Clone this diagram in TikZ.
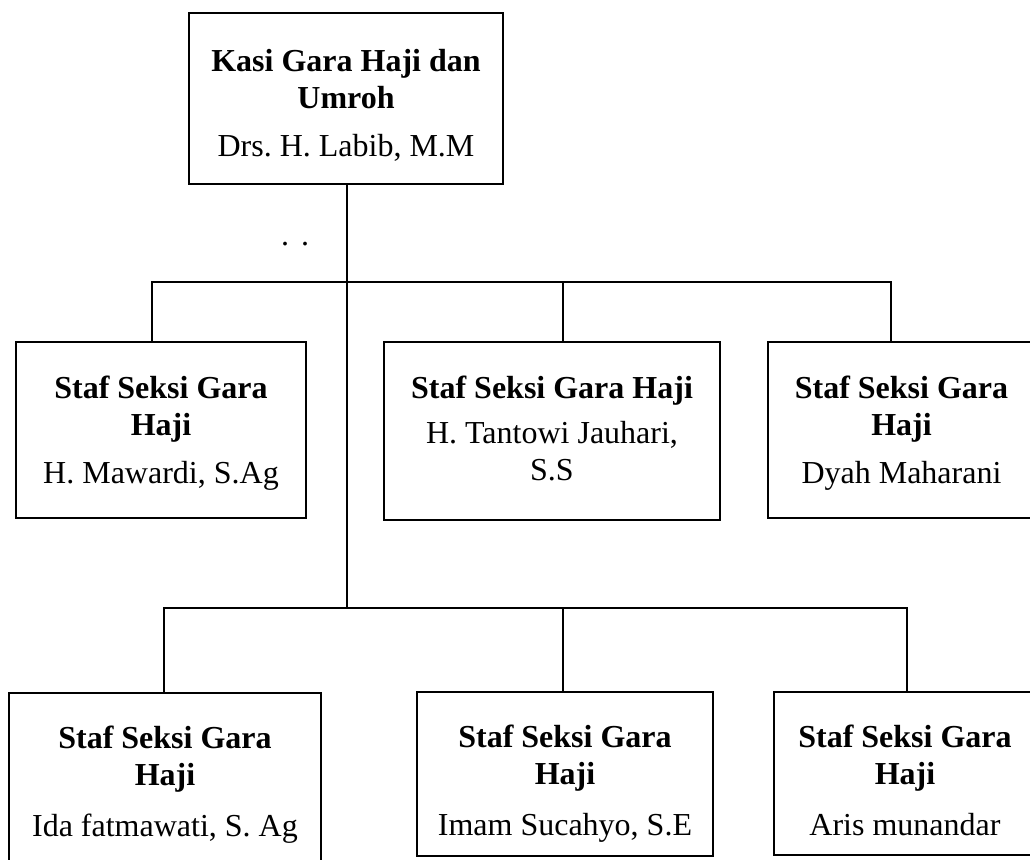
\documentclass[tikz,border=0pt]{standalone}
\usepackage{fontspec}
\setmainfont{Liberation Serif}
\usetikzlibrary{positioning}
\frenchspacing

\newcommand{\topgap}[1]{\rule{0pt}{#1}}
\newcommand{\botgap}[1]{\rule[-#1]{0pt}{0pt}}
\tikzset{
	staffbox/.style={draw, line width=1pt, anchor=north, align=center, inner xsep=0pt, inner ysep=0pt, font=\fontsize{16}{18.5}\selectfont},
	link/.style={line width=1pt}
}

\begin{document}
\begin{tikzpicture}[x=.5pt,y=-.5pt]
			\useasboundingbox (0,0) rectangle (1030,860); \clip (0,0) rectangle (1030,860);
			
			% kepala seksi
			\node[staffbox, minimum width=157pt] (kasi) at (346,12) {\topgap{29.5pt}\textbf{Kasi Gara Haji dan}\\ \textbf{Umroh}\\[5.5pt] Drs. H. Labib, M.M\botgap{13.5pt}};
			\node[anchor=base, font=\fontsize{16}{18.5}\selectfont, inner sep=0pt] (gap) at (295,245.5) {.\hspace{6pt}.};
			
			% baris pertama
			\node[staffbox, minimum width=145pt] (staf1) at (161,341) {\topgap{28.5pt}\textbf{Staf Seksi Gara}\\ \textbf{Haji}\\[5.5pt] H. Mawardi, S.Ag\botgap{17pt}};
			\node[staffbox, minimum width=168pt] (staf2) at (552,341) {\topgap{28.5pt}\textbf{Staf Seksi Gara Haji}\\[4pt] H. Tantowi Jauhari,\\ S.S\botgap{19.5pt}};
			\node[staffbox, minimum width=133.5pt] (staf3) at (901.5,341) {\topgap{28.5pt}\textbf{Staf Seksi Gara}\\ \textbf{Haji}\\[5.5pt] Dyah Maharani\botgap{17pt}};
			
			% baris kedua
			\node[staffbox, minimum width=156pt] (staf4) at (165,692) {\topgap{28pt}\textbf{Staf Seksi Gara}\\ \textbf{Haji}\\[7pt] Ida fatmawati, S. Ag\botgap{25pt}};
			\node[staffbox, minimum width=148pt] (staf5) at (565,691) {\topgap{28pt}\textbf{Staf Seksi Gara}\\ \textbf{Haji}\\[7pt] Imam Sucahyo, S.E\botgap{10pt}};
			\node[staffbox, minimum width=131pt] (staf6) at (905,691) {\topgap{28pt}\textbf{Staf Seksi Gara}\\ \textbf{Haji}\\[7pt] Aris munandar\botgap{9.5pt}};
			
			% garis
			\coordinate (trunk) at (347,608);
			\coordinate (aL) at (152,282); \coordinate (aM) at (563,282); \coordinate (aR) at (891,282);
			\coordinate (bL) at (164,608); \coordinate (bM) at (563,608); \coordinate (bR) at (907,608);
			\draw[link] (kasi.south -| trunk) -- (trunk);
			\draw[link] (aL |- staf1.north) -- (aL) -- (aR) -- (aR |- staf3.north); \draw[link] (aM) -- (aM |- staf2.north);
			\draw[link] (bL |- staf4.north) -- (bL) -- (bR) -- (bR |- staf6.north); \draw[link] (bM) -- (bM |- staf5.north);
\end{tikzpicture}
\end{document}
